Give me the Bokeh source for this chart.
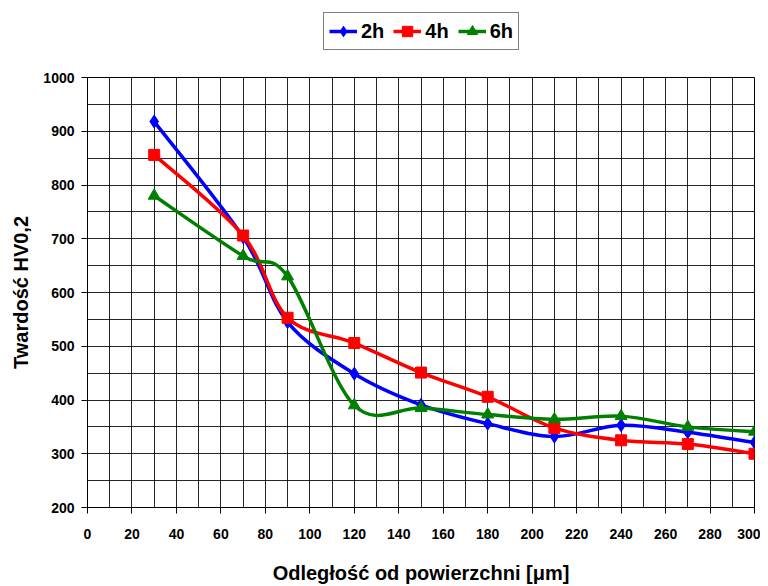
from bokeh.plotting import figure
from bokeh.layouts import column
from bokeh.models import (Legend, LegendItem, SingleIntervalTicker, FixedTicker,
                          ColumnDataSource, Range1d)
from bokeh.embed import file_html
from bokeh.resources import INLINE

# ---- data ----
x_um = [30, 70, 90, 120, 150, 180, 210, 240, 270, 300]
hv_2h = [918, 703, 545, 449, 391, 356, 332, 353, 340, 321]
hv_4h = [856, 706, 553, 506, 451, 406, 348, 325, 318, 300]
hv_6h = [780, 668, 630, 390, 385, 373, 364, 370, 350, 341]
series_names = ["2h", "4h", "6h"]
x_ticks = list(range(0, 301, 20))
y_ticks = list(range(200, 1001, 100))

colors = ["#0000FF", "#FF0000", "#008000"]
markers = ["diamond", "square", "triangle"]
marker_sizes = [13, 11, 12]

FONT = "Liberation Sans"

# ---- legend strip (own figure so the legend is not clipped) ----
pl = figure(width=760, height=67, output_backend="svg", toolbar_location=None,
            x_range=Range1d(0, 760), y_range=Range1d(0, 67),
            x_axis_type=None, y_axis_type=None,
            min_border=0, min_border_left=0, min_border_right=0,
            min_border_top=0, min_border_bottom=0)
pl.outline_line_color = None

# ---- main chart ----
p = figure(width=760, height=519, output_backend="svg", toolbar_location=None,
           x_range=Range1d(0, 300), y_range=Range1d(200, 1000),
           min_border_left=87, min_border_right=6, min_border_top=10,
           min_border_bottom=79)
p.background_fill_color = "white"
p.outline_line_color = "black"
p.outline_line_width = 1


def smooth_segments(xs, ys):
    n = len(xs)
    px = [xs[0]] + list(xs) + [xs[-1]]
    py = [ys[0]] + list(ys) + [ys[-1]]
    out = dict(x0=[], y0=[], x1=[], y1=[], cx0=[], cy0=[], cx1=[], cy1=[])
    for i in range(1, n):
        xa, ya = px[i], py[i]
        xb, yb = px[i + 1], py[i + 1]
        out["x0"].append(xa); out["y0"].append(ya)
        out["x1"].append(xb); out["y1"].append(yb)
        out["cx0"].append(xa + (px[i + 1] - px[i - 1]) / 6.0)
        out["cy0"].append(ya + (py[i + 1] - py[i - 1]) / 6.0)
        out["cx1"].append(xb - (px[i + 2] - px[i]) / 6.0)
        out["cy1"].append(yb - (py[i + 2] - py[i]) / 6.0)
    return out


items = []
for name, ys, col, mk, ms in zip(series_names, [hv_2h, hv_4h, hv_6h], colors, markers, marker_sizes):
    seg = ColumnDataSource(smooth_segments(x_um, ys))
    p.bezier(x0="x0", y0="y0", x1="x1", y1="y1", cx0="cx0", cy0="cy0",
             cx1="cx1", cy1="cy1", source=seg, line_color=col, line_width=3.5)
    p.scatter(x_um, ys, marker=mk, size=ms, fill_color=col, line_color=col)
    # legend proxies: same data, lying outside the strip's visible range
    leg_line = pl.line(x_um, ys, line_color=col, line_width=3.5)
    leg_mk = pl.scatter(x_um, ys, marker=mk, size=8, fill_color=col, line_color=col)
    items.append(LegendItem(label=name, renderers=[leg_line, leg_mk]))

legend = Legend(items=items, orientation="horizontal", location=(236, 17),
                glyph_width=28, glyph_height=26, label_standoff=4, spacing=9,
                padding=5, margin=0,
                label_text_font=FONT, label_text_font_style="bold",
                label_text_font_size="20px", label_text_color="black",
                border_line_color="black", border_line_width=1,
                background_fill_color="white", background_fill_alpha=1)
pl.add_layout(legend, "center")

# grids
p.xgrid.ticker = SingleIntervalTicker(interval=10)
p.ygrid.ticker = SingleIntervalTicker(interval=50)
for g in (p.xgrid, p.ygrid):
    g.grid_line_color = "black"
    g.grid_line_width = 1
    g.grid_line_alpha = 0.85

# axes
p.xaxis.ticker = FixedTicker(ticks=x_ticks)
p.yaxis.ticker = FixedTicker(ticks=y_ticks)
for ax in (p.xaxis, p.yaxis):
    ax.axis_line_color = "black"
    ax.major_tick_line_color = "black"
    ax.major_tick_out = 6
    ax.major_tick_in = 0
    ax.minor_tick_line_color = None
    ax.major_label_text_font = FONT
    ax.major_label_text_font_style = "bold"
    ax.major_label_text_font_size = "14px"
    ax.major_label_text_color = "black"
    ax.axis_label_text_font = FONT
    ax.axis_label_text_font_style = "bold"
    ax.axis_label_text_color = "black"

p.xaxis.major_label_standoff = 15
p.yaxis.major_label_standoff = 7
p.xaxis.axis_label = "Odległość od powierzchni [μm]"
p.yaxis.axis_label = "Twardość HV0,2"
p.xaxis.axis_label_text_font_size = "20px"
p.yaxis.axis_label_text_font_size = "20px"
p.xaxis.axis_label_standoff = 20
p.yaxis.axis_label_standoff = 8

layout = column(pl, p, spacing=0)
open("out.html", "w").write(file_html(layout, INLINE))
